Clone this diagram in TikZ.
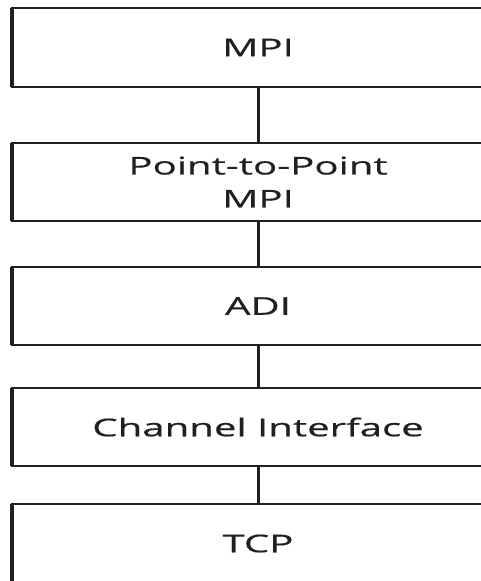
\documentclass[tikz,border=0pt]{standalone}
\usepackage{fontspec}
\newfontfamily\layerfont[FakeStretch=1.64,FakeBold=0.5]{Open Sans}
\definecolor{ink}{HTML}{231F20}
\begin{document}
\begin{tikzpicture}[x=1pt,y=-1pt,
  layer/.style={draw=ink, line width=2.2pt, minimum width=492pt, inner sep=0pt,
    outer sep=0pt, text=ink, align=center,
    font=\layerfont\fontsize{24.5}{33}\selectfont},
  leftedge/.style={draw=ink, line width=3.8pt},
  conn/.style={draw=ink, line width=3pt}]
  \useasboundingbox (0,0) rectangle (481,581);
  \clip (0,0) rectangle (481,581);
  % protocol layers, top to bottom
  \node[layer, minimum height=79pt] (mpi) at (258,47.5) {MPI};
  \node[layer, minimum height=78pt] (p2p) at (258,182) {Point-to-Point\\MPI};
  \node[layer, minimum height=78pt] (adi) at (258,306) {ADI};
  \node[layer, minimum height=78pt] (chan) at (258,427) {Channel Interface};
  \node[layer, minimum height=79pt] (tcp) at (258,543.5) {TCP};
  % heavier left borders
  \foreach \n in {mpi,p2p,adi,chan,tcp}
    \draw[leftedge] (\n.north west) -- (\n.south west);
  % links between adjacent layers
  \draw[conn] (mpi.south) -- (p2p.north);
  \draw[conn] (p2p.south) -- (adi.north);
  \draw[conn] (adi.south) -- (chan.north);
  \draw[conn] (chan.south) -- (tcp.north);
\end{tikzpicture}
\end{document}
